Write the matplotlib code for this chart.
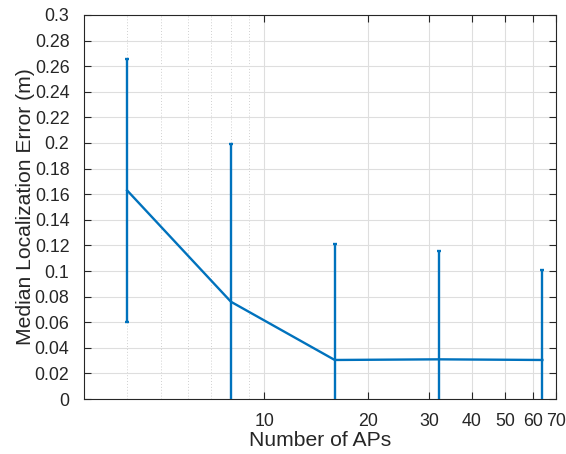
import matplotlib
matplotlib.use("Agg")
import matplotlib.pyplot as plt
from matplotlib.ticker import FixedLocator, NullFormatter, FixedFormatter
import numpy as np

num_aps = [4, 8, 16, 32, 64]
median_err = [0.163, 0.076, 0.0305, 0.031, 0.0305]
err_half = [0.103, 0.123, 0.0905, 0.085, 0.070]
x_ticks = [10, 20, 30, 40, 50, 60, 70]
x_tick_labels = ["10", "20", "30", "40", "50", "60", "70"]
x_minor = [3, 4, 5, 6, 7, 8, 9]
y_ticks = [0, 0.02, 0.04, 0.06, 0.08, 0.1, 0.12, 0.14, 0.16, 0.18, 0.2, 0.22, 0.24, 0.26, 0.28, 0.3]
y_tick_labels = ["0", "0.02", "0.04", "0.06", "0.08", "0.1", "0.12", "0.14", "0.16",
                 "0.18", "0.2", "0.22", "0.24", "0.26", "0.28", "0.3"]

plt.rcParams['font.family'] = ['Liberation Sans', 'DejaVu Sans']
fig = plt.figure(figsize=(5.66, 4.54), dpi=100)
ax = fig.add_axes([0.1484, 0.1211, 0.982 - 0.1484, 0.967 - 0.1211])

blue = '#0072BD'
ax.errorbar(num_aps, median_err, yerr=err_half, color=blue, lw=1.7,
            elinewidth=1.7, capsize=1.5, capthick=1.7, zorder=3)

ax.set_xscale('log')
ax.set_xlim(3, 70)
ax.set_ylim(0, 0.3)
ax.xaxis.set_major_locator(FixedLocator(x_ticks))
ax.xaxis.set_major_formatter(FixedFormatter(x_tick_labels))
ax.xaxis.set_minor_locator(FixedLocator(x_minor))
ax.xaxis.set_minor_formatter(NullFormatter())
ax.yaxis.set_major_locator(FixedLocator(y_ticks))
ax.yaxis.set_major_formatter(FixedFormatter(y_tick_labels))

ax.grid(True, which='major', color='#dedede', lw=0.8, ls='-', zorder=0)
ax.grid(True, which='minor', axis='x', color='#d0d0d0', lw=0.7, ls=(0, (1, 2)), zorder=0)
ax.set_axisbelow(True)

gray = '#262626'
for s in ax.spines.values():
    s.set_color(gray)
    s.set_linewidth(0.8)
ax.tick_params(which='both', direction='in', colors=gray, labelsize=12.8, top=True, right=True)
ax.tick_params(which='major', length=5, width=0.8)
ax.tick_params(which='minor', length=0)
ax.tick_params(axis='x', pad=10)
ax.tick_params(axis='y', pad=10.5)

ax.set_xlabel('Number of APs', fontsize=15.2, color=gray, labelpad=1)
ax.set_ylabel('Median Localization Error (m)', fontsize=15.2, color=gray, labelpad=0)

fig.savefig('out.png', dpi=100)
